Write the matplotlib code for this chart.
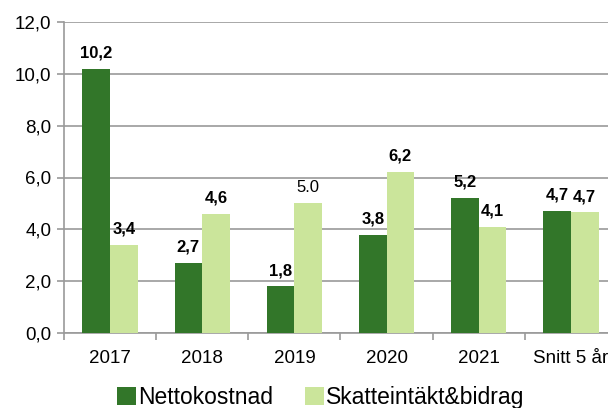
import matplotlib.pyplot as plt
import numpy as np

plt.rcParams['font.family'] = ['Liberation Sans', 'DejaVu Sans']

kategorier = ["2017", "2018", "2019", "2020", "2021", "Snitt 5 år"]
nettokostnad = [10.2, 2.7, 1.8, 3.8, 5.2, 4.7]
skatteintakt = [3.4, 4.6, 5.0, 6.2, 4.1, 4.65]
etiketter_netto = ["10,2", "2,7", "1,8", "3,8", "5,2", "4,7"]
etiketter_skatt = ["3,4", "4,6", "5.0", "6,2", "4,1", "4,7"]
y_ticks = [0, 2, 4, 6, 8, 10, 12]

morkgron = '#327629'
ljusgron = '#cbe59b'
gra = '#9a9a9a'

fig = plt.figure(figsize=(6.08, 4.08), dpi=100)
ax = fig.add_axes([64 / 608, 75 / 408, 553 / 608, 311 / 408])

x = np.arange(len(kategorier))
b = 0.3
bars1 = ax.bar(x - b / 2, nettokostnad, b, color=morkgron, label='Nettokostnad', zorder=3)
bars2 = ax.bar(x + b / 2, skatteintakt, b, color=ljusgron, label='Skatteintäkt&bidrag', zorder=3)

for bar, txt in zip(bars1, etiketter_netto):
    ax.annotate(txt, (bar.get_x() + bar.get_width() / 2, bar.get_height()),
                xytext=(0, 6), textcoords='offset points', ha='center', va='bottom',
                fontsize=12, fontweight='bold')
for bar, txt in zip(bars2, etiketter_skatt):
    vikt = 'normal' if '.' in txt else 'bold'
    ax.annotate(txt, (bar.get_x() + bar.get_width() / 2, bar.get_height()),
                xytext=(0, 6), textcoords='offset points', ha='center', va='bottom',
                fontsize=12, fontweight=vikt)

ax.set_xlim(-0.5, len(kategorier) - 0.5)
ax.set_ylim(0, 12)
ax.set_yticks(y_ticks)
ax.set_yticklabels([f"{v:.1f}".replace('.', ',') for v in y_ticks], fontsize=13.5)
ax.set_xticks(x)
ax.set_xticklabels(kategorier, fontsize=13.5)
ax.set_xticks(np.arange(-0.5, len(kategorier)), minor=True)
ax.tick_params(axis='x', which='major', length=0, pad=12)
ax.tick_params(axis='x', which='minor', length=5, color=gra, width=1.2)
ax.tick_params(axis='y', length=5, color=gra, width=1.2, pad=4)

ax.grid(axis='y', color=gra, linewidth=1.2, zorder=0)
for s in ['top', 'right']:
    ax.spines[s].set_visible(False)
for s in ['left', 'bottom']:
    ax.spines[s].set_color(gra)
    ax.spines[s].set_linewidth(1.2)

fig.legend(loc='center', bbox_to_anchor=(0.528, 0.026), ncol=2, frameon=False,
           fontsize=16.5, handlelength=0.8, handleheight=0.8, handletextpad=0.12,
           columnspacing=1.4, borderaxespad=0, borderpad=0)

fig.savefig('out.png', dpi=100)
